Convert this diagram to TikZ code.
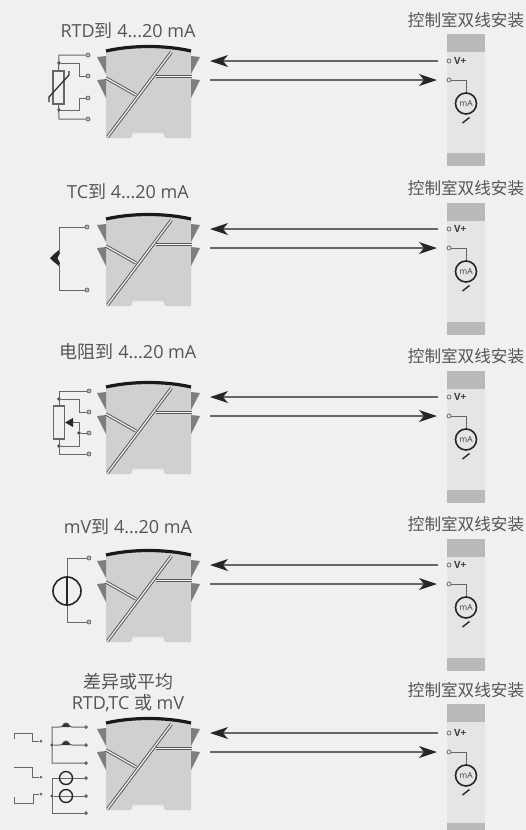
\documentclass[tikz,border=0pt]{standalone}
\usepackage{fontspec}
\setmainfont{Open Sans}
\newfontfamily\cjk{Noto Sans CJK SC}
\definecolor{bgc}{HTML}{EFF0F2}
\definecolor{bodyc}{HTML}{D0D0D1}
\definecolor{triac}{HTML}{7E7E7E}
\definecolor{panelc}{HTML}{E4E6E6}
\definecolor{bandc}{HTML}{B9B9BA}
\definecolor{wirec}{HTML}{666666}
\definecolor{txtc}{HTML}{555558}
\tikzset{
  wire/.style={draw=wirec,line width=1pt},
  dwire/.style={draw=black!65,line width=3.2pt},
  dwirein/.style={draw=white!90!gray,line width=1.2pt},
  term/.style={circle,draw=wirec,fill=bgc!60!wirec,line width=0.7pt,inner sep=0pt,minimum size=4pt},
  dotn/.style={circle,fill=black!75,inner sep=0pt,minimum size=3.6pt},
  title/.style={text=txtc,font=\fontsize{18}{21}\selectfont,inner sep=0pt,align=center},
  sidelabel/.style={text=txtc,font=\cjk\fontsize{16.6}{18}\selectfont,inner sep=0pt},
  flow/.style={draw=wirec,line width=1.2pt},
  mpic/.pic={
    \fill[bodyc] (106,51) -- (106,138) -- (131,138) -- (133,133) -- (163,133) -- (165,138) -- (191,138) -- (191,51) .. controls (165,45) and (132,45) .. (106,51) -- cycle;
    \fill[triac] (97,57) -- (106,56) -- (106,74) -- cycle;
    \fill[triac] (97,80) -- (106,79) -- (106,98) -- cycle;
    \fill[triac] (200,57) -- (191,56) -- (191,74) -- cycle;
    \fill[triac] (200,80) -- (191,79) -- (191,98) -- cycle;
    \draw[line width=3.2pt,black!90] (106,51) .. controls (132,45) and (165,45) .. (191,51);
    \draw[dwire] (106,78) -- (136,95);
    \draw[dwirein] (106,78) -- (136,95);
    \draw[dwire] (156,76.5) -- (192,76.5);
    \draw[dwirein] (156,76.5) -- (192,76.5);
    \draw[dwire] (171.5,52) -- (107.5,137);
    \draw[dwirein] (171.5,52) -- (107.5,137);
  },
  rpic/.pic={
    \draw[flow] (215,61) -- (438,61);
    \fill[black!85] (210,61) -- (228,55) -- (223,61) -- (228,67) -- cycle;
    \draw[flow] (210,80) -- (430,80);
    \fill[black!85] (437,80) -- (419,74) -- (424,80) -- (419,86) -- cycle;
    \draw[wire,line width=0.8pt] (451,80) -- (466,80) -- (466,92.5);
    \node[term,fill=panelc,minimum size=4pt] at (449,61) {};
    \node[term,fill=panelc,minimum size=4pt] at (449,80) {};
    \node[text=black!75,font=\fontsize{10}{11}\selectfont\bfseries,anchor=west,inner sep=0pt] at (454,61) {V+};
    \node[circle,draw=black!85,fill=panelc,line width=1.6pt,inner sep=0pt,minimum size=21pt,font=\fontsize{8.5}{9}\selectfont,text=black!75] at (466,103.5) {mA};
    \draw[black!85,line width=1.4pt] (462.5,123) -- (469.5,117.5);
  },
  panelbody/.pic={
    \fill[panelc] (447,34) rectangle (485,166);
    \fill[bandc] (447,34) rectangle (485,52);
    \fill[bandc] (447,153) rectangle (485,166);
  }
}
\begin{document}
\begin{tikzpicture}[x=1pt,y=-1pt]
\useasboundingbox (0,0) rectangle (526,830);
\fill[bgc] (0,0) rectangle (526,830);
\begin{scope}
\clip (0,0) rectangle (526,830);
\foreach \dy/\py in {0/0,168/169,336/337,504/505,672/670} {
  \pic at (0,\py) {panelbody};
  \pic at (0,\dy) {mpic};
  \pic at (0,\dy) {rpic};
}
\end{scope}
% titles
\node[title] (t1) at (128,31) {RTD{\cjk 到} 4...20 mA};
\node[title] (t2) at (128,192) {TC{\cjk 到} 4...20 mA};
\node[title] (t3) at (128,352) {{\cjk 电阻到} 4...20 mA};
\node[title] (t4) at (128,527) {mV{\cjk 到} 4...20 mA};
\node[title] (t5) at (128,693) {{\cjk 差异或平均}\\RTD,TC {\cjk 或} mV};
\foreach \n/\y in {a/20,b/188,c/356,d/524,e/690} \node[sidelabel] (s\n) at (466,\y) {控制室双线安装};
% Row 1: RTD
\foreach \n/\y in {1/55,2/76,3/98,4/119} \node[term] (ra\n) at (88,\y) {};
\node[draw=wirec,line width=1.2pt,minimum width=11pt,minimum height=33pt,inner sep=0pt] (rtd) at (58.5,87.5) {};
\node[dotn] (ra5) at (59,63) {};
\node[dotn] (ra6) at (59,110) {};
\draw[wire] (rtd.north) -- (59,55) -- (ra1);
\draw[wire] (ra5) -- (79,63) -- (79,76) -- (ra2);
\draw[wire] (rtd.south) -- (59,119) -- (ra4);
\draw[wire] (ra6) -- (79,110) -- (79,98) -- (ra3);
\draw[black!80,line width=1.3pt] (49,102) -- (49,97) -- (69,75) -- (69,71);
% Row 2: TC
\node[term] (tc1) at (87,227) {};
\node[term] (tc2) at (87,290) {};
\coordinate (tctip) at (50,258);
\draw[wire] (tc1) -- (59,227) -- (59,251);
\draw[wire] (tc2) -- (59,290) -- (59,265);
\fill[black!85] (tctip) -- (54,254) -- (59,250) -- (60,253) -- (57.5,258) -- (60,263) -- (59,266) -- (54,262) -- cycle;
% Row 3: resistor
\foreach \n/\y in {1/391,2/412,3/433,4/454} \node[term] (rb\n) at (89,\y) {};
\node[draw=wirec,line width=1.2pt,minimum width=11pt,minimum height=33pt,inner sep=0pt] (res) at (59,422.5) {};
\node[dotn] (rb5) at (59,399) {};
\node[dotn] (rb6) at (59,446) {};
\node[dotn] (rb7) at (79,433) {};
\draw[wire] (res.north) -- (59,391) -- (rb1);
\draw[wire] (rb5) -- (79,399) -- (79,412) -- (rb2);
\draw[wire] (res.south) -- (59,454) -- (rb4);
\draw[wire] (rb6) -- (79,446) -- (rb7);
\draw[wire] (rb7) -- (rb3);
\draw[wire] (rb7) -- (79,422) -- (70,422);
\fill[black!85] (res.east) -- (73,418) -- (73,427) -- cycle;
% Row 4: mV
\node[term] (mv1) at (89,558) {};
\node[term] (mv2) at (89,622) {};
\node[circle,draw=black!85,line width=1.6pt,minimum size=28pt,inner sep=0pt] (mvc) at (67,591) {};
\draw[wire] (mv1) -- (67,558) -- (67,622) -- (mv2);
\draw[black!85,line width=1.3pt] (67,576) -- (67,606);
% Row 5
\foreach \n/\y in {1/727,2/745,3/763,4/778,5/796,6/813} \node[term,minimum size=3pt,fill=wirec] (re\n) at (86,\y) {};
\node[dotn,minimum size=3.4pt] (re7) at (52,745) {};
\node[dotn,minimum size=3.4pt] (re8) at (52,796) {};
\draw[wire] (re1) -- (72,727) .. controls (69,727) and (69,723) .. (66,723) .. controls (63,723) and (63,727) .. (60,727) -- (52,727) -- (52,763) -- (re3);
\draw[wire] (re2) -- (72,745) .. controls (69,745) and (69,741) .. (66,741) .. controls (63,741) and (63,745) .. (60,745) -- (re7);
\draw[wire] (re4) -- (52,778) -- (52,813) -- (re6);
\draw[wire] (re5) -- (re8);
\fill[black!80] (62,727) .. controls (64,722) and (68,722) .. (70,727) -- cycle;
\fill[black!80] (62,745) .. controls (64,740) and (68,740) .. (70,745) -- cycle;
\node[circle,draw=black!85,line width=1.4pt,minimum size=13pt,inner sep=0pt] (rc1) at (66,778) {};
\node[circle,draw=black!85,line width=1.4pt,minimum size=13pt,inner sep=0pt] (rc2) at (66,796) {};
\foreach \n/\y in {1/741,2/777,3/794} \node[dotn,minimum size=3pt,fill=wirec] (rx\n) at (41,\y) {};
\draw[wire] (14,739) -- (14,733) -- (32,733) -- (32,741) -- (rx1);
\draw[wire] (14,767) -- (32,767) -- (32,777) -- (rx2);
\draw[wire] (14,797) -- (14,803) -- (33,803) -- (33,794) -- (rx3);
\end{tikzpicture}
\end{document}
